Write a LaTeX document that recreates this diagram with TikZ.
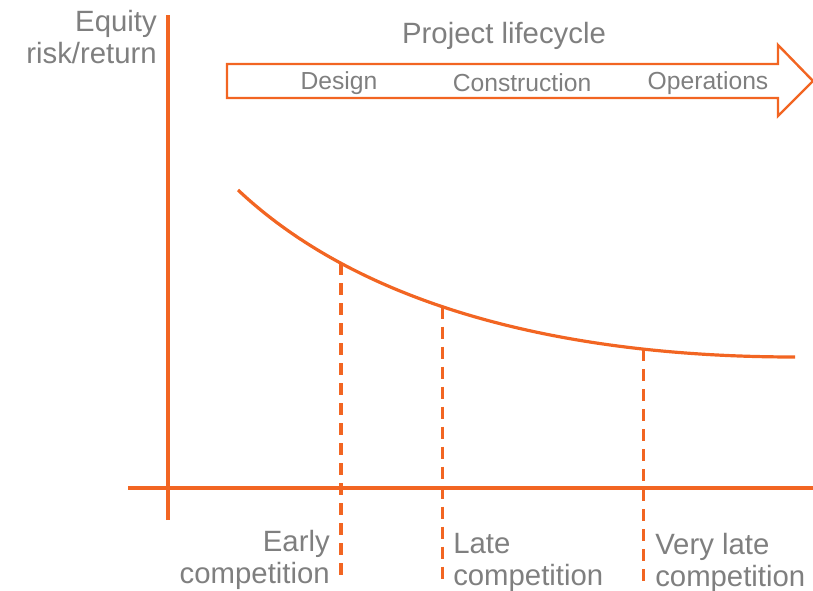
\documentclass[tikz,border=0pt]{standalone}
\usepackage{fontspec}
\setmainfont{Liberation Sans}
\usepackage{tikz}
\usetikzlibrary{positioning}
\definecolor{lineorange}{HTML}{F26522}
\definecolor{labelgray}{HTML}{7F7F7F}
\tikzset{
  axis/.style={draw=lineorange, line width=2.4pt},
  phase/.style={text=labelgray, font=\fontsize{18.5}{22}\selectfont},
  lbl/.style={text=labelgray, font=\fontsize{22}{24}\selectfont, align=left, inner sep=0pt},
  marker/.style={draw=lineorange, line width=2.4pt, dash pattern=on 9pt off 6pt}
}
\begin{document}
\begin{tikzpicture}[x=0.75pt,y=-0.75pt]
	\useasboundingbox (0,0) rectangle (813,591);
	\coordinate (yt) at (168,15);
	\coordinate (yb) at (168,520);
	\coordinate (xl) at (128,488);
	\coordinate (xr) at (813,488);
	\draw[axis] (yb) -- (yt);
	\draw[axis] (xl) -- (xr);
	\node[lbl, anchor=north east, align=right] (ylabel) at (157,10) {Equity\\risk/return};
	\node[lbl, anchor=base] (life) at (504,44) {Project lifecycle};
	\draw[draw=lineorange, line width=1.8pt, line join=miter]
		(227,64) -- (778,64) -- (778,45) -- (813,81) -- (778,116) -- (778,98) -- (227,98) -- cycle;
	\node[phase] (design) at (339,83) {Design};
	\node[phase] (constr) at (522,83) {Construction};
	\node[phase] (oper) at (708,83) {Operations};
	\coordinate (c0) at (238,190);
	\coordinate (c4) at (795,357);
	\draw[axis] (c0) .. controls (360,305) and (560,357) .. (c4)
		coordinate[pos=0.245] (c1)
		coordinate[pos=0.443] (c2)
		coordinate[pos=0.777] (c3);
	\coordinate (e1) at (c1 |- 0,583);
	\coordinate (e2) at (c2 |- 0,585);
	\coordinate (e3) at (c3 |- 0,585);
	\draw[marker] (c1) -- (e1);
	\draw[marker] (c2) -- (e2);
	\draw[marker] (c3) -- (e3);
	\node[lbl, anchor=north east, align=right] (early) at (330,530) {Early\\competition};
	\node[lbl, anchor=north west] (late) at (453,533) {Late\\competition};
	\node[lbl, anchor=north west] (vlate) at (655,533) {Very late\\competition};
\end{tikzpicture}
\end{document}
